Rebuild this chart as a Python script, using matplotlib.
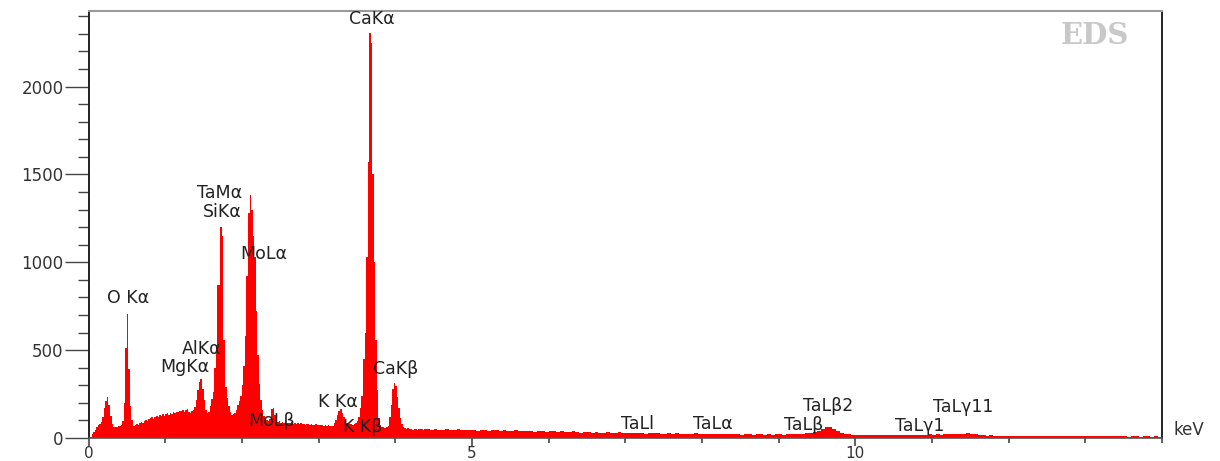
import numpy as np
import matplotlib
matplotlib.use("Agg")
import matplotlib.pyplot as plt
from matplotlib.ticker import MultipleLocator

# ---------------- data ----------------
LOW_STEP = 0.02     # keV per channel, 0 - 4.40 keV
HIGH_STEP = 0.05    # keV per channel, 4.40 - 14.00 keV
LOW_END = 4.40

counts_low = [
    0, 8, 20, 35, 48, 62, 72, 80, 92, 120,
    170, 210, 234, 190, 125, 80, 65, 62, 60, 66,
    68, 72, 95, 200, 510, 706, 390, 180, 100, 66,
    72, 78, 75, 88, 92, 85, 98, 105, 96, 108,
    112, 118, 110, 122, 128, 120, 130, 126, 134, 128,
    136, 140, 132, 145, 138, 148, 142, 150, 146, 155,
    152, 160, 148, 158, 165, 150, 145, 152, 160, 175,
    215, 275, 320, 336, 280, 215, 160, 145, 150, 180,
    220, 260, 400, 530, 870, 870, 1200, 1150, 560, 290,
    230, 180, 150, 132, 138, 145, 160, 185, 210, 240,
    300, 410, 580, 920, 1280, 1385, 1300, 1150, 1030, 720,
    470, 310, 215, 160, 125, 110, 100, 95, 110, 165,
    170, 130, 100, 92, 95, 88, 92, 85, 90, 86,
    88, 84, 90, 82, 86, 80, 85, 78, 84, 80,
    82, 76, 80, 78, 74, 80, 76, 72, 78, 74,
    76, 72, 75, 70, 74, 68, 72, 70, 66, 70,
    85, 105, 130, 152, 163, 140, 118, 100, 88, 82,
    80, 78, 76, 80, 84, 95, 120, 170, 240, 450,
    600, 1030, 1570, 2305, 2250, 1500, 1000, 560, 273, 115,
    72, 65, 60, 58, 62, 70, 120, 190, 280, 315,
    295, 235, 170, 115, 80, 62, 56, 52, 55, 50,
    52, 48, 54, 50, 47, 53, 49, 51, 46, 50,
]

counts_high = [
    50, 46, 52, 48, 45, 51, 47, 44, 49, 46, 43, 48, 45, 42, 47, 44, 41, 45, 43, 40,
    44, 41, 38, 43, 40, 37, 42, 39, 36, 41, 38, 35, 40, 37, 34, 38, 36, 33, 37, 34,
    31, 35, 32, 29, 34, 31, 28, 33, 30, 27, 32, 29, 26, 31, 28, 30, 27, 25, 29, 26,
    28, 25, 23, 27, 24, 26, 22, 25, 23, 21, 26, 24, 22, 25, 21, 23, 20, 24, 22, 20,
    23, 21, 19, 22, 20, 18, 22, 20, 19, 21, 18, 20, 22, 19, 21, 20, 23, 21, 24, 26,
    28, 32, 38, 50, 62, 64, 52, 38, 28, 22, 20, 18, 17, 19, 16, 18, 15, 17, 19, 16,
    18, 15, 17, 16, 19, 15, 17, 18, 16, 19, 17, 20, 18, 21, 19, 22, 20, 24, 21, 25,
    23, 27, 22, 20, 18, 16, 14, 15, 13, 14, 12, 13, 14, 12, 11, 13, 12, 14, 11, 12,
    13, 11, 12, 10, 12, 11, 13, 10, 11, 12, 10, 11, 9, 12, 10, 11, 9, 10, 12, 9,
    10, 9, 11, 8, 10, 9, 8, 10, 9, 7, 9, 8,
]

peak_labels = ["CaKα", "TaMα", "SiKα", "MoLα", "O Kα", "AlKα", "MgKα",
               "MoLβ", "K Kα", "K Kβ", "CaKβ", "TaLl", "TaLα", "TaLβ",
               "TaLβ2", "TaLγ1", "TaLγ11"]
label_x = [3.69, 1.71, 1.745, 2.29, 0.52, 1.48, 1.26,
           2.39, 3.25, 3.57, 4.00, 7.16, 8.14, 9.33,
           9.64, 10.84, 11.41]
label_y = [2382, 1396, 1288, 1048, 798, 507, 402,
           97, 205, 60, 393, 80, 80, 74,
           182, 68, 174]

x_major = [0, 5, 10]
y_major = [0, 500, 1000, 1500, 2000]

# ---------------- figure ----------------
W, H = 1220, 461
fig = plt.figure(figsize=(W / 100, H / 100), dpi=100)
ax = fig.add_axes([88.5 / W, 23 / H, (1162 - 88.5) / W, 427 / H])

edges = np.concatenate([
    np.arange(len(counts_low) + 1) * LOW_STEP,
    LOW_END + np.arange(1, len(counts_high) + 1) * HIGH_STEP,
])
values = np.array(counts_low + counts_high, dtype=float)
ax.stairs(values, edges, fill=True, color="#ff0000", linewidth=0)

ax.set_xlim(0, 14)
ax.set_ylim(0, 2430)

ax.xaxis.set_major_locator(plt.FixedLocator(x_major))
ax.xaxis.set_minor_locator(MultipleLocator(1))
ax.yaxis.set_major_locator(plt.FixedLocator(y_major))
ax.yaxis.set_minor_locator(MultipleLocator(100))

font = "DejaVu Sans"
ax.tick_params(axis="y", which="major", direction="out", length=17, width=1.0,
               color="#444444", pad=1, labelsize=12, labelcolor="#333333")
ax.tick_params(axis="y", which="minor", direction="out", length=8, width=1.0,
               color="#444444")
ax.tick_params(axis="x", which="major", direction="out", length=5.5, width=1.2,
               color="#444444", pad=0, labelsize=11, labelcolor="#333333")
ax.tick_params(axis="x", which="minor", direction="out", length=3.5, width=1.2,
               color="#444444")
for lab in ax.get_xticklabels() + ax.get_yticklabels():
    lab.set_family(font)

ax.spines["left"].set_color("#222222")
ax.spines["left"].set_linewidth(1.4)
ax.spines["bottom"].set_color("#555555")
ax.spines["bottom"].set_linewidth(1.2)
ax.spines["top"].set_color("#9a9a9a")
ax.spines["top"].set_linewidth(1.5)
ax.spines["right"].set_color("#222222")
ax.spines["right"].set_linewidth(1.4)

for txt, xv, yv in zip(peak_labels, label_x, label_y):
    ax.text(xv, yv, txt, ha="center", va="center", fontsize=12.5,
            family=font, color="#222222")

ax.text(1.011, 0.019, "keV", transform=ax.transAxes, ha="left", va="center",
        fontsize=12, family=font, color="#333333")

fig.text(1095 / W, 1 - 36 / H, "EDS", ha="center", va="center", fontsize=21,
         family="DejaVu Serif", fontweight="bold", color="#c8c8c8")

fig.savefig("out.png", dpi=100)
